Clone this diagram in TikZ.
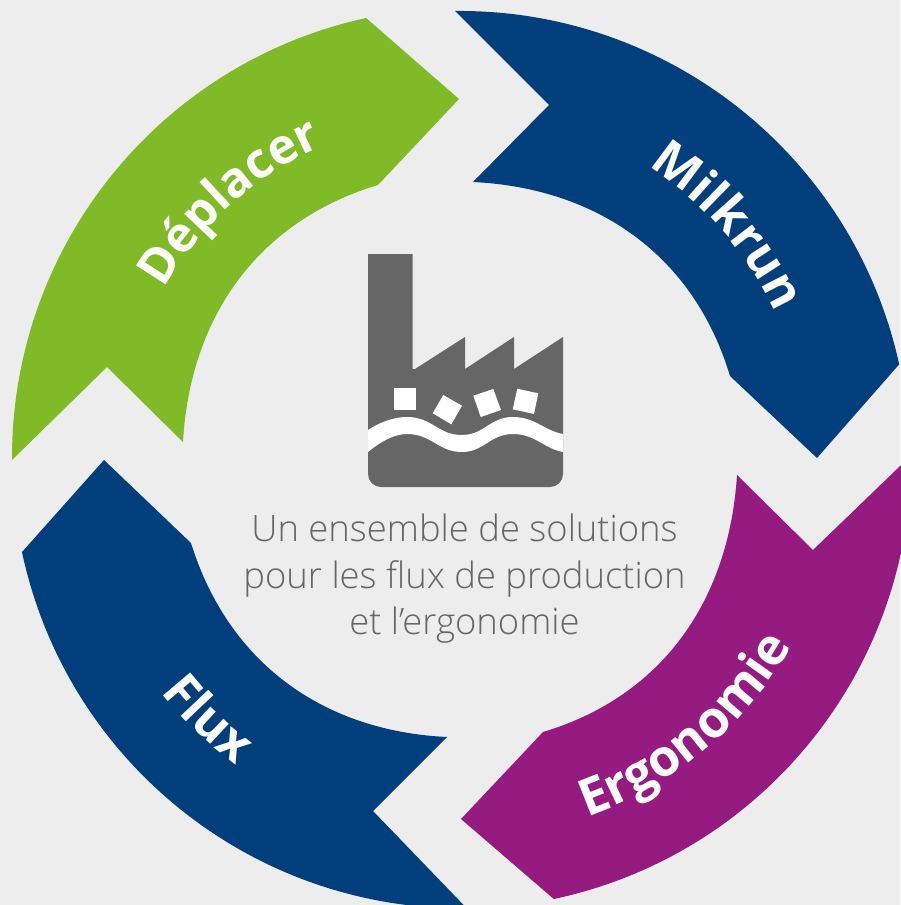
\documentclass[tikz,border=0pt]{standalone}
\usepackage{fontspec}
\setmainfont{Open Sans}
\newfontfamily\lightf{Open Sans Light}
\usetikzlibrary{decorations.text,calc}
\definecolor{bgc}{HTML}{EDEDED}
\definecolor{greenc}{HTML}{80BA27}
\definecolor{bluec}{HTML}{003F7C}
\definecolor{magc}{HTML}{951B81}
\definecolor{grayc}{HTML}{666666}
\tikzset{x=1pt,y=-1pt,
 lab/.style 2 args={decorate,decoration={text along path,text align=center,text={|\fontsize{#1}{#1}\selectfont\bfseries\color{white}|#2}}},
 captxt/.style={text=grayc,font=\lightf\fontsize{36.4}{46.5}\selectfont,align=center}}
\begin{document}
\begin{tikzpicture}
\fill[bgc] (0,0) rectangle (900,905);
\useasboundingbox (0,0) rectangle (900,905);
\coordinate (c) at (460,458);
% Deplacer
\fill[greenc] (12,460) arc[start angle=179.7,end angle=257.7,radius=450] -- (459,99) -- (378,185)
 .. controls (258,221) and (190,317) .. (183,442) -- (107,367) -- cycle;
% Milkrun
\fill[bluec] (455,11) arc[start angle=269.4,end angle=347.6,radius=450] -- (817,458) -- (730,376)
 .. controls (694,256) and (598,188) .. (473,182) -- (549,105) -- cycle;
% Ergonomie
\fill[magc] (911,455.5) arc[start angle=-0.3,end angle=78,radius=451] -- (461,819) -- (543,732)
 .. controls (663,696) and (729,600) .. (737,475) -- (813,550) -- cycle;
% Flux
\fill[bluec] (22,552) arc[start angle=168,end angle=89.4,radius=450] -- (373,811) -- (447,737)
 .. controls (322,731) and (228,662) .. (191,543) -- (104,460) -- cycle;
% labels
\path[lab={49}{Déplacer}] ($(c)+(188:341)$) arc[start angle=188,end angle=268,radius=341];
\path[lab={50}{Milkrun}] ($(c)+(279:347)$) arc[start angle=279,end angle=359,radius=347];
\path[lab={51}{Ergonomie}] ($(c)+(99:381)$) arc[start angle=99,end angle=1,radius=381];
\path[lab={50}{Flux}] ($(c)+(170:380)$) arc[start angle=170,end angle=98,radius=380];
% factory
\fill[grayc] (368,254) -- (412.5,254) -- (412.5,369) -- (415,369) -- (465,337) -- (465,369) -- (514,337) -- (514,369) -- (563,337)
 -- (563,474) arc[start angle=0,end angle=90,radius=13] -- (381,487) arc[start angle=90,end angle=180,radius=13] -- cycle;
\fill[white] (368,430) .. controls (380,422) and (394,417) .. (407,417) .. controls (432,417) and (438,435) .. (462,435)
 .. controls (484,435) and (490,417) .. (513,417) .. controls (535,417) and (545,431) .. (563,434)
 -- (563,452) .. controls (545,449) and (535,434) .. (513,434) .. controls (490,434) and (484,452) .. (462,452)
 .. controls (438,452) and (432,434) .. (407,434) .. controls (394,434) and (380,442) .. (368,452) -- cycle;
\fill[white] (394,388) rectangle (416,410);
\fill[white] (443.3,395) -- (462,405.7) -- (451.3,424.3) -- (432.7,413.3) -- cycle;
\fill[white] (473.3,395.7) -- (493.3,389) -- (501,410) -- (480.7,417) -- cycle;
\fill[white] (517.3,388.7) -- (538.3,393.3) -- (534,414) -- (512.7,409.3) -- cycle;
\node[captxt] (caption) at (464.5,579) {Un ensemble de solutions\\pour les flux de production\\et l’ergonomie};
\end{tikzpicture}
\end{document}
